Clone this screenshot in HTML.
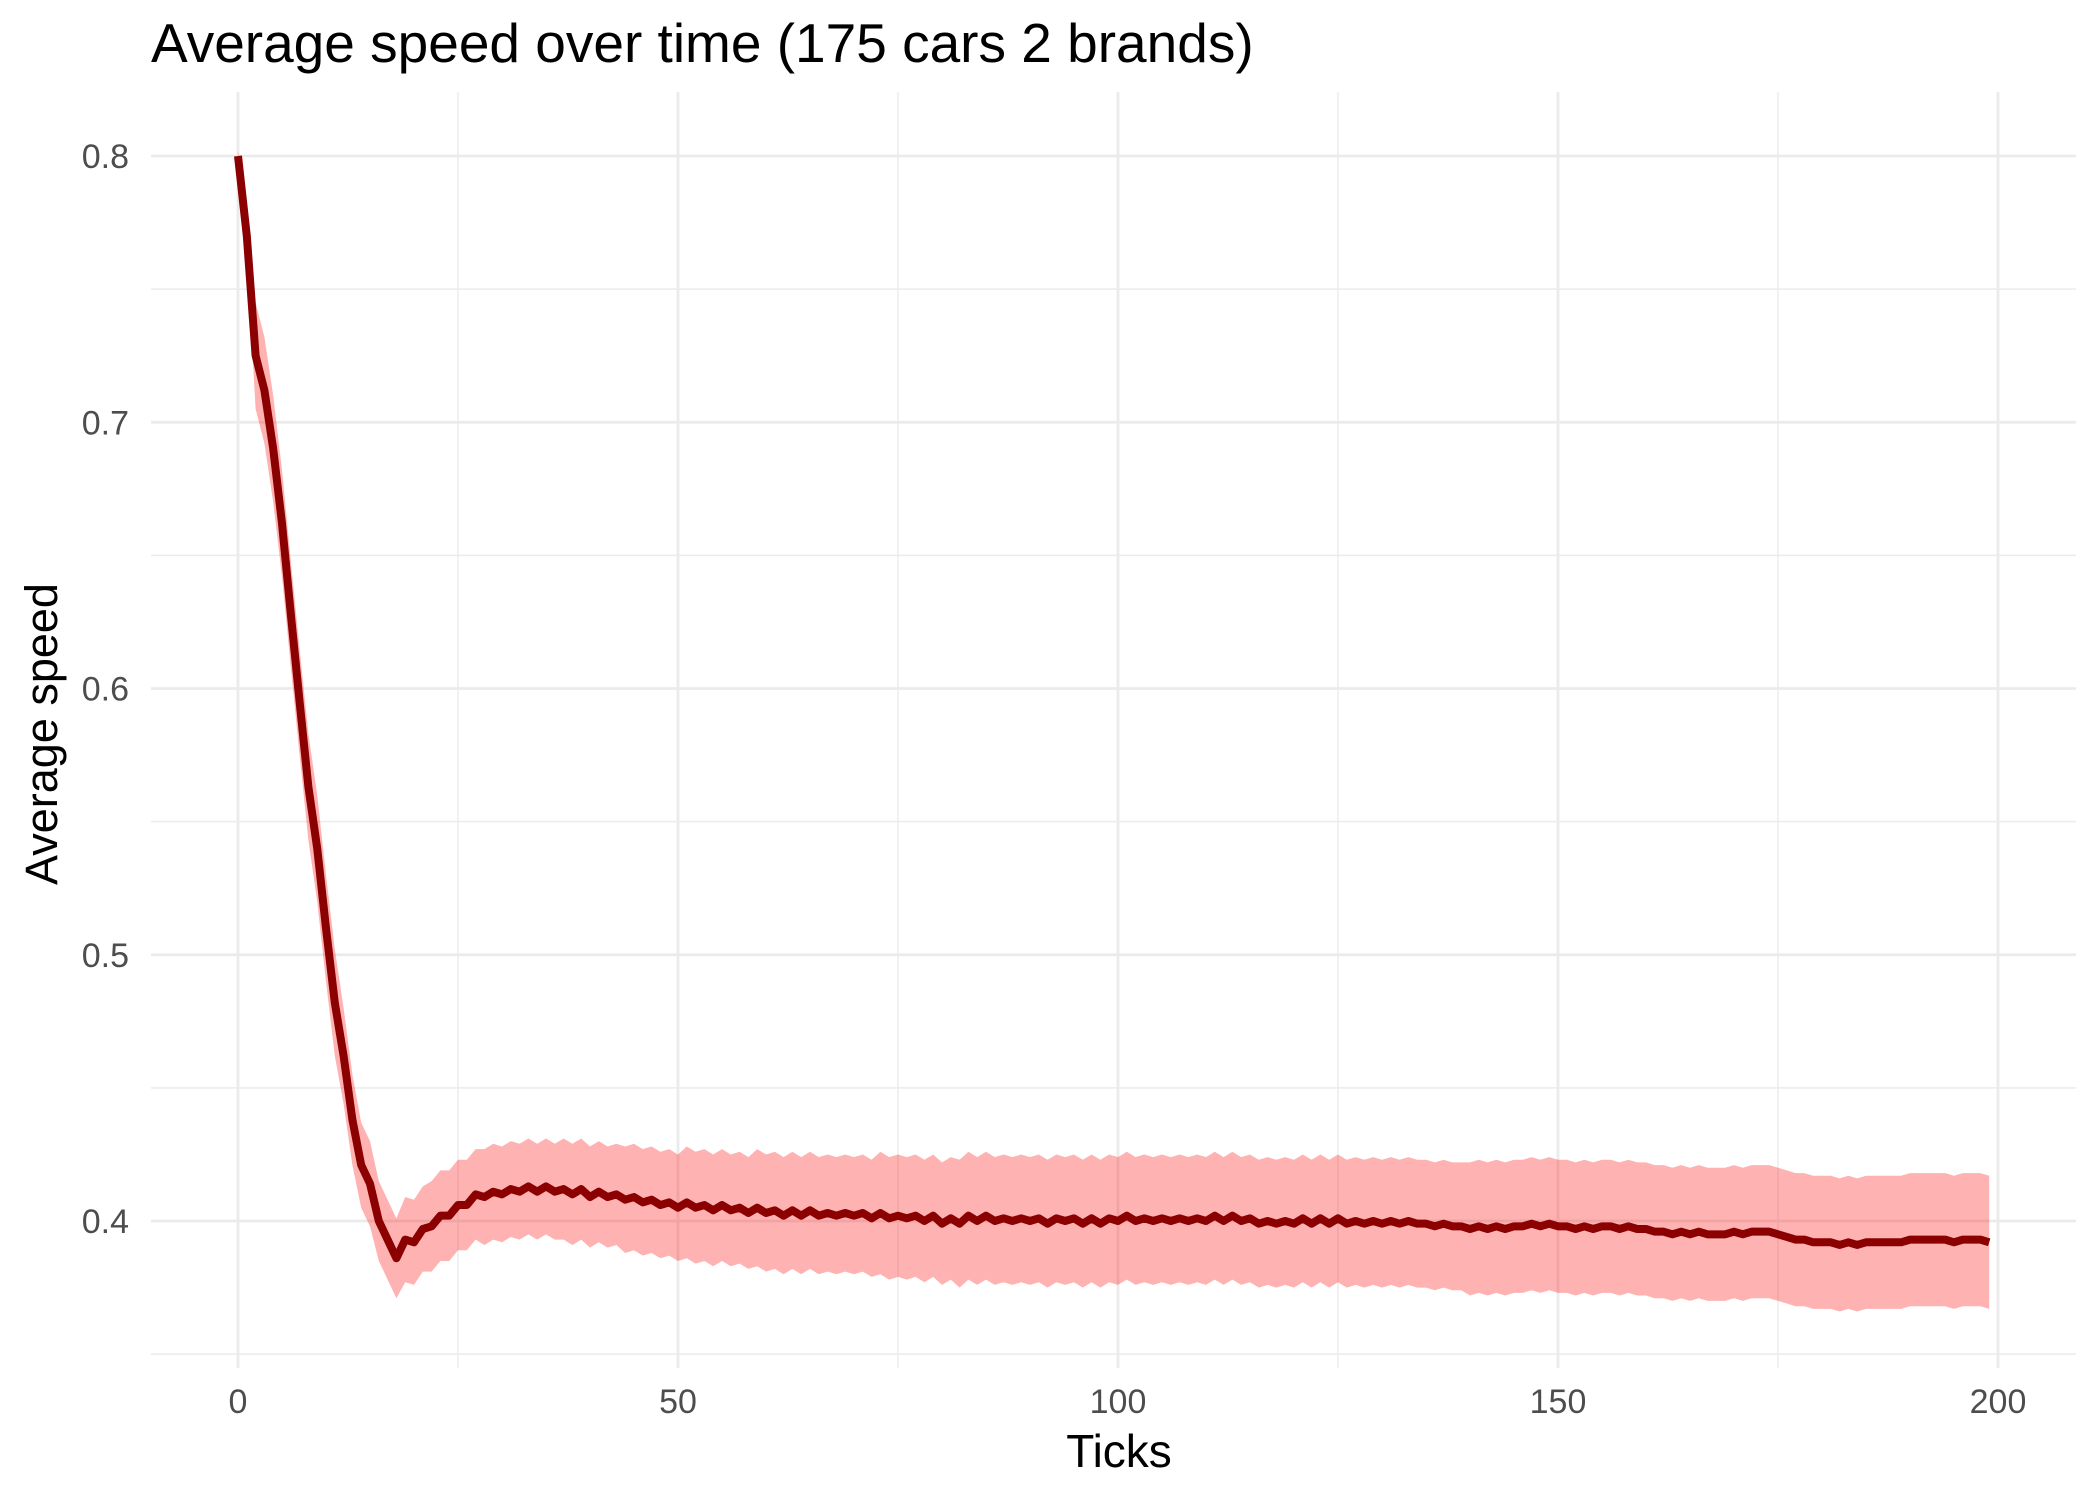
<!DOCTYPE html>
<html><head><meta charset="utf-8"><style>
body{margin:0;background:#fff;}
svg{display:block;font-family:"Liberation Sans",sans-serif;}
</style></head><body>
<svg id="c" width="2100" height="1500" xmlns="http://www.w3.org/2000/svg">
<g id="grid"></g>
<g id="marks"></g>
<g id="axes"></g>
<text x="151" y="62" font-size="55" fill="#000">Average speed over time (175 cars 2 brands)</text>
<text x="1119" y="1467" font-size="46" fill="#000" text-anchor="middle">Ticks</text>
<text x="0" y="0" font-size="45" fill="#000" text-anchor="middle" transform="translate(57,734) rotate(-90)">Average speed</text>
</svg>
<script>
const meanSpeed = [
.800,.770,.725,.712,.690,.662,.628,.595,.563,.540,.510,.482,.462,.438,.421,.414,.400,.393,.386,.393,
.392,.397,.398,.402,.402,.406,.406,.410,.409,.411,
.410,.412,.411,.413,.411,.413,.411,.412,.410,.412,.409,.411,.409,.410,.408,.409,.407,.408,.406,.407,
.405,.407,.405,.406,.404,.406,.404,.405,.403,.405,.403,.404,.402,.404,.402,.404,.402,.403,.402,.403,.402,.403,.401,.403,.401,
.402,.401,.402,.400,.402,.399,.401,.399,.402,.400,.402,.400,.401,.400,.401,.400,.401,.399,.401,.400,.401,.399,.401,.399,.401,
.400,.402,.400,.401,.400,.401,.400,.401,.400,.401,.400,.402,.400,.402,.400,.401,.399,.400,.399,.400,.399,.401,.399,.401,.399,
.401,.399,.400,.399,.400,.399,.400,.399,.400,.399,.399,.398,.399,.398,.398,.397,.398,.397,.398,.397,.398,.398,.399,.398,.399,
.398,.398,.397,.398,.397,.398,.398,.397,.398,.397,.397,.396,.396,.395,.396,.395,.396,.395,.395,.395,.396,.395,.396,.396,.396,
.395,.394,.393,.393,.392,.392,.392,.391,.392,.391,.392,.392,.392,.392,.392,.393,.393,.393,.393,.393,.392,.393,.393,.393,.392];
const halfWidth = [
.002,.006,.020,.020,.020,.020,.020,.020,.020,.020,.020,.020,.018,.017,.016,.016,.015,.015,.015,.016,
.016,.016,.017,.017,.017,.017,.017,.017,.018,.018,
.018,.018,.018,.018,.018,.018,.018,.019,.019,.019,.019,.019,.019,.019,.020,.020,.020,.020,.020,.020,
.020,.021,.021,.021,.021,.021,.021,.021,.021,.022,.022,.022,.022,.022,.022,.022,.022,.022,.022,.022,.022,.022,.022,.023,.023,
.023,.023,.023,.023,.023,.023,.023,.024,.024,.024,.024,.024,.024,.024,.024,.024,.024,.024,.024,.024,.024,.024,.024,.024,.024,
.024,.024,.024,.024,.024,.024,.024,.024,.024,.024,.024,.024,.024,.024,.024,.024,.024,.024,.024,.024,.024,.024,.024,.024,.024,
.024,.024,.024,.024,.024,.024,.024,.024,.024,.024,.024,.024,.024,.024,.024,.025,.025,.025,.025,.025,.025,.025,.025,.025,.025,
.025,.025,.025,.025,.025,.025,.025,.025,.025,.025,.025,.025,.025,.025,.025,.025,.025,.025,.025,.025,.025,.025,.025,.025,.025,
.025,.025,.025,.025,.025,.025,.025,.025,.025,.025,.025,.025,.025,.025,.025,.025,.025,.025,.025,.025,.025,.025,.025,.025,.025];
const xTicks = [0,50,100,150,200];
const xMinor = [25,75,125,175];
const yTicks = [0.4,0.5,0.6,0.7,0.8];
const yMinor = [0.35,0.45,0.55,0.65,0.75];

const NS="http://www.w3.org/2000/svg";
const X0=238, X1=1998, Y8=156, Y4=1221;
const PL=151, PR=2076, PT=92, PB=1368;
function sx(t){return X0+(t-0)*(X1-X0)/200;}
function sy(v){return Y4+(v-0.4)*(Y8-Y4)/0.4;}
function mk(tag,attrs,parent){const e=document.createElementNS(NS,tag);for(const k in attrs)e.setAttribute(k,attrs[k]);parent.appendChild(e);return e;}
const grid=document.getElementById('grid'), marks=document.getElementById('marks'), axes=document.getElementById('axes');
yMinor.forEach(v=>{const l=mk('line',{x1:PL,x2:PR,y1:sy(v),y2:sy(v),stroke:'#ebebeb','stroke-width':1.4},grid);

});
xMinor.forEach(v=>{const l=mk('line',{x1:sx(v),x2:sx(v),y1:PT,y2:PB,stroke:'#ebebeb','stroke-width':1.4},grid);

});
yTicks.forEach(v=>{const l=mk('line',{x1:PL,x2:PR,y1:sy(v),y2:sy(v),stroke:'#ebebeb','stroke-width':2.8},grid);


const t=mk('text',{x:129,y:sy(v)+12,'font-size':34,fill:'#4d4d4d','text-anchor':'end'},axes);t.textContent=v.toFixed(1);

});
xTicks.forEach(v=>{const l=mk('line',{x1:sx(v),x2:sx(v),y1:PT,y2:PB,stroke:'#ebebeb','stroke-width':2.8},grid);


const t=mk('text',{x:sx(v),y:1413,'font-size':34,fill:'#4d4d4d','text-anchor':'middle'},axes);t.textContent=String(v);

});
let up=[],lo=[],ln=[];
meanSpeed.forEach((m,i)=>{up.push(sx(i)+','+sy(m+halfWidth[i]));lo.unshift(sx(i)+','+sy(m-halfWidth[i]));ln.push(sx(i)+','+sy(m));});
const band=mk('polygon',{points:up.concat(lo).join(' '),fill:'#ff0000','fill-opacity':0.3},marks);


const line=mk('polyline',{points:ln.join(' '),fill:'none',stroke:'#8b0000','stroke-width':8,'stroke-linejoin':'round'},marks);


</script>
</body></html>
